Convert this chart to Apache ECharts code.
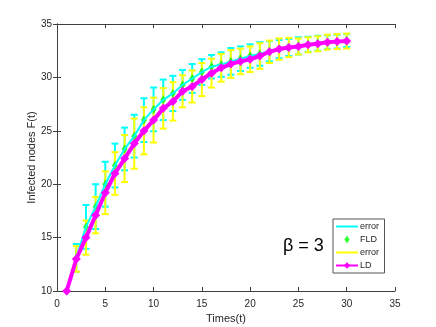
<!DOCTYPE html>
<html>
<head>
<meta charset="utf-8">
<script src="https://cdn.jsdelivr.net/npm/echarts@6/dist/echarts.min.js"></script>
<style>
    html, body { margin: 0; padding: 0; background: #fff; }
    #chart { width: 436px; height: 327px; }
</style>
</head>
<body>
<div id="chart"></div>
<script>
// 时间点
var times = [1, 2, 3, 4, 5, 6, 7, 8, 9, 10, 11, 12, 13, 14, 15,
             16, 17, 18, 19, 20, 21, 22, 23, 24, 25, 26, 27, 28, 29, 30];
// FLD 均值 + 误差(半宽)
var fldValues = [10, 13.1, 16, 17.9, 20, 21.75, 23.3, 24.5, 26, 27, 27.9, 28.5, 29.3, 29.9, 30.5,
                 31, 31.2, 31.5, 31.75, 32.0, 32.2, 32.45, 32.65, 32.8, 32.95, 33.1, 33.2, 33.3, 33.35, 33.45];
var fldErr = [0, 1.3, 2.05, 2.1, 2.1, 2.05, 2, 2, 2.05, 2.05, 1.9, 1.65, 1.4, 1.35, 1.2,
              1.1, 1.15, 1.25, 1.15, 1.1, 1.1, 0.95, 0.85, 0.8, 0.8, 0.7, 0.7, 0.65, 0.65, 0.6];
// LD 均值 + 误差(半宽)
var ldValues = [10, 13, 15, 17.1, 19.2, 21, 22.4, 23.8, 25, 26, 27.1, 27.75, 28.7, 29.15, 29.8,
                30.4, 30.9, 31.25, 31.5, 31.7, 32.0, 32.4, 32.65, 32.8, 32.9, 33.05, 33.15, 33.3, 33.35, 33.4];
var ldErr = [0, 1.2, 1.6, 1.7, 2, 2, 2.2, 2.35, 2.2, 2.1, 1.9, 1.8, 1.5, 1.5, 1.55,
             1.35, 1.3, 1.3, 1.2, 1.2, 1.2, 1.05, 1.0, 0.9, 0.75, 0.7, 0.7, 0.7, 0.7, 0.7];
var xTicks = [0, 35, 5];   // min, max, interval
var yTicks = [10, 35, 5];

var font = 'Liberation Sans, Arial, Helvetica, sans-serif';
var axisColor = '#404040';
var lineIcon = 'path://M0,0 L22,0 L22,2 L0,2 Z';
var diamondIcon = 'path://M3,0 L6,4.5 L3,9 L0,4.5 Z';

function pairs(ys) {
    var out = [];
    for (var i = 0; i < times.length; i++) out.push([times[i], ys[i]]);
    return out;
}
function bars(ys, err) {
    var out = [];
    for (var i = 0; i < times.length; i++) out.push([times[i], ys[i] - err[i], ys[i] + err[i]]);
    return out;
}

// 误差棒
function errorBarRender(color) {
    return function (params, api) {
        var x = api.value(0), lo = api.value(1), hi = api.value(2);
        if (hi - lo <= 0) return null;
        var pLo = api.coord([x, lo]);
        var pHi = api.coord([x, hi]);
        var hw = 3.5;
        var style = { stroke: color, lineWidth: 2 };
        return {
            type: 'group',
            children: [
                { type: 'line', shape: { x1: pLo[0], y1: pLo[1], x2: pHi[0], y2: pHi[1] }, style: style },
                { type: 'line', shape: { x1: pHi[0] - hw, y1: pHi[1], x2: pHi[0] + hw, y2: pHi[1] }, style: style },
                { type: 'line', shape: { x1: pLo[0] - hw, y1: pLo[1], x2: pLo[0] + hw, y2: pLo[1] }, style: style }
            ]
        };
    };
}

var chart = echarts.init(document.getElementById('chart'));

var xAxisBase = {
    type: 'value', min: xTicks[0], max: xTicks[1], interval: xTicks[2],
    axisLine: { show: true, lineStyle: { color: axisColor, width: 1 } },
    axisTick: { show: true, inside: true, length: 4, lineStyle: { color: axisColor } },
    splitLine: { show: false }
};
var yAxisBase = {
    type: 'value', min: yTicks[0], max: yTicks[1], interval: yTicks[2],
    axisLine: { show: true, lineStyle: { color: axisColor, width: 1 } },
    axisTick: { show: true, inside: true, length: 4, lineStyle: { color: axisColor } },
    splitLine: { show: false }
};

chart.setOption({
    animation: false,
    backgroundColor: '#fff',
    grid: { left: 57, right: 41, top: 24, bottom: 36, outerBoundsMode: 'none' },
    xAxis: [
        Object.assign({}, xAxisBase, {
            position: 'bottom',
            name: 'Times(t)', nameLocation: 'middle', nameGap: 22, nameMoveOverlap: false,
            nameTextStyle: { fontFamily: font, fontSize: 11, color: '#262626' },
            axisLabel: { fontFamily: font, fontSize: 10, color: '#262626', margin: 8 }
        }),
        Object.assign({}, xAxisBase, { position: 'top', axisLabel: { show: false } })
    ],
    yAxis: [
        Object.assign({}, yAxisBase, {
            position: 'left',
            name: 'Infected nodes F(t)', nameLocation: 'middle', nameGap: 20, nameMoveOverlap: false,
            nameTextStyle: { fontFamily: font, fontSize: 11, color: '#262626' },
            axisLabel: { fontFamily: font, fontSize: 10, color: '#262626', margin: 5 }
        }),
        Object.assign({}, yAxisBase, { position: 'right', axisLabel: { show: false } })
    ],
    legend: {
        orient: 'vertical',
        left: 333, top: 219,
        backgroundColor: '#fff',
        borderColor: '#555', borderWidth: 1, borderRadius: 0,
        padding: [3, 3, 3, 2],
        itemWidth: 22, itemHeight: 8, itemGap: 4,
        textStyle: { fontFamily: font, fontSize: 9, color: '#262626', padding: [0, 0, 0, -3] },
        data: [
            { name: 'error', icon: lineIcon },
            { name: 'FLD', icon: diamondIcon },
            { name: 'error ', icon: lineIcon },
            { name: 'LD' }
        ]
    },
    graphic: [{
        type: 'text', left: 283, top: 237,
        style: { text: 'β = 3', fontFamily: font, fontSize: 18, fill: '#000' }
    }],
    series: [
        {
            name: 'error', type: 'line', data: pairs(fldValues),
            symbol: 'none', lineStyle: { color: '#00ffff', width: 2 }, itemStyle: { color: '#00ffff' }
        },
        {
            name: 'fldBars', type: 'custom', data: bars(fldValues, fldErr),
            renderItem: errorBarRender('#00ffff'), encode: { x: 0, y: [1, 2] }
        },
        {
            name: 'FLD', type: 'scatter', data: pairs(fldValues),
            symbol: 'diamond', symbolSize: [6, 9], itemStyle: { color: '#00ff00' }
        },
        {
            name: 'ldBars', type: 'custom', data: bars(ldValues, ldErr),
            renderItem: errorBarRender('#ffff00'), encode: { x: 0, y: [1, 2] }
        },
        {
            name: 'error ', type: 'line', data: pairs(ldValues),
            symbol: 'none', lineStyle: { color: '#ffff00', width: 2 }, itemStyle: { color: '#ffff00' }
        },
        {
            name: 'LD', type: 'line', data: pairs(ldValues),
            symbol: 'diamond', symbolSize: 9, showAllSymbol: true,
            lineStyle: { color: '#ff00ff', width: 4 }, itemStyle: { color: '#ff00ff' }
        }
    ]
});
</script>
</body>
</html>
